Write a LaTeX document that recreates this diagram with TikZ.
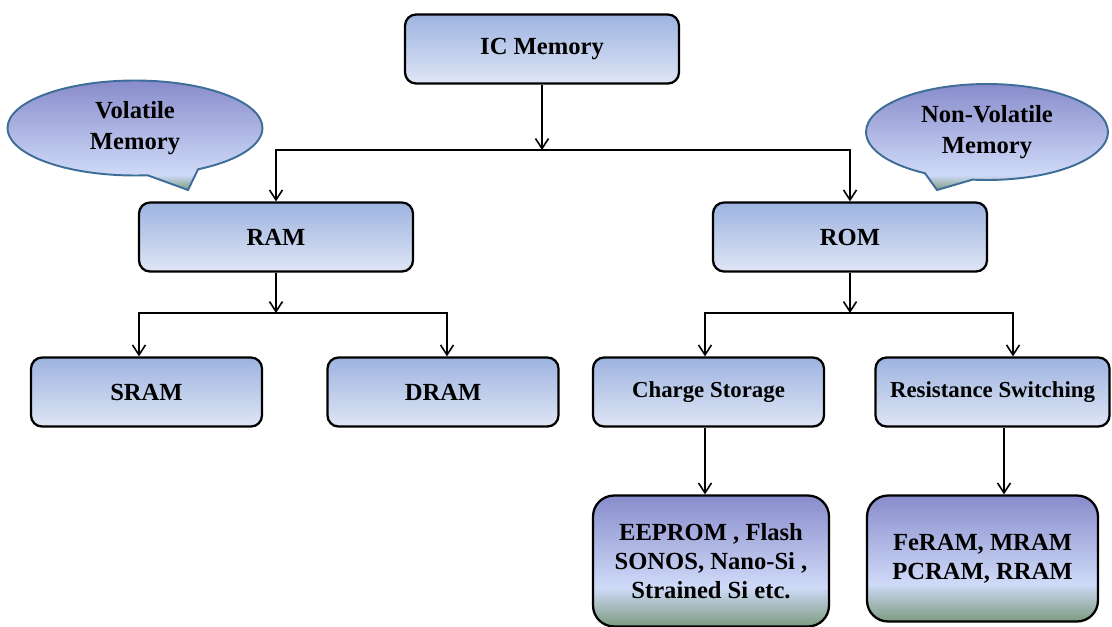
\documentclass[tikz,border=0pt]{standalone}
\usepackage{fontspec}
\setmainfont{Liberation Serif}
\usepackage{tikz}
\usetikzlibrary{arrows.meta}
\usetikzlibrary{shapes.callouts}

\definecolor{boxtop}{HTML}{9DB3E0}
\definecolor{boxbot}{HTML}{DFE6F5}
\definecolor{leaftop}{HTML}{888CCB}
\definecolor{leafmid}{HTML}{CFDAF8}
\definecolor{leafbot}{HTML}{7C9B7F}
\definecolor{calledge}{HTML}{3E6D97}

\pgfdeclareverticalshading{leafshade}{100bp}{color(0bp)=(leafbot); color(25bp)=(leafbot);
  color(40bp)=(leafmid); color(75bp)=(leaftop); color(100bp)=(leaftop)}
\pgfdeclareverticalshading{callshade}{100bp}{color(0bp)=(leafbot); color(25bp)=(leafbot);
  color(32bp)=(leafmid); color(75bp)=(leaftop); color(100bp)=(leaftop)}

\begin{document}
\begin{tikzpicture}[x=0.02cm, y=-0.02cm, >={Straight Barb[length=2mm,width=2.6mm]}]
  \tikzset{memblock/.style={rectangle, rounded corners=0.22cm, draw, line width=1.3pt,
      top color=boxtop, bottom color=boxbot, minimum height=1.38cm, inner sep=0pt,
      font=\bfseries\fontsize{14}{17}\selectfont},
    leafblock/.style={rectangle, rounded corners=0.42cm, draw, line width=1.3pt,
      shading=leafshade, align=center, inner sep=0pt,
      font=\bfseries\fontsize{14}{16.5}\selectfont},
    bubble/.style={ellipse callout, callout pointer arc=24, draw=calledge, line width=1.1pt,
      shading=callshade, align=center, inner sep=0pt,
      font=\bfseries\fontsize{14}{17.5}\selectfont},
    link/.style={line width=0.9pt}}

  \useasboundingbox (0,0) rectangle (1112,626);

  \node[memblock, minimum width=5.48cm] (ic) at (542,49) {IC Memory};
  \node[memblock, minimum width=5.48cm] (ram) at (276,237) {RAM};
  \node[memblock, minimum width=5.48cm] (rom) at (850,237) {ROM};
  \node[memblock, minimum width=4.62cm] (sram) at (146.5,392) {SRAM};
  \node[memblock, minimum width=4.62cm] (dram) at (443,392) {DRAM};
  \node[memblock, minimum width=4.62cm, font=\bfseries\fontsize{13}{16}\selectfont] (chg) at (708.5,392) {Charge Storage};
  \node[memblock, minimum width=4.68cm, font=\bfseries\fontsize{13}{16}\selectfont] (res) at (992.5,392) {Resistance Switching};
  \node[leafblock, minimum width=4.72cm, minimum height=2.62cm] (flash) at (711,561) {EEPROM , Flash\\SONOS, Nano-Si ,\\Strained Si etc.};
  \node[leafblock, minimum width=4.62cm, minimum height=2.52cm] (emerg) at (982.5,558.5) {FeRAM, MRAM\\PCRAM, RRAM};

  %--- callouts ---
  \node[bubble, minimum width=5.1cm, minimum height=1.9cm, callout absolute pointer={(188,190)}] (vol) at (135,128) {Volatile\\Memory};
  \node[bubble, minimum width=4.84cm, minimum height=1.92cm, callout absolute pointer={(937,190)}] (nvol) at (987,132) {Non-Volatile\\Memory};

  %--- junctions ---
  \coordinate (jic) at (542,150);
  \coordinate (jram) at (276,313);
  \coordinate (jrom) at (850,313);

  % IC Memory -> RAM / ROM
  \draw[->, link] (ic) -- (jic);
  \draw[->, link] (jic) -| (ram.north);
  \draw[->, link] (jic) -| (rom.north);

  % RAM -> SRAM / DRAM
  \draw[->, link] (ram) -- (jram);
  \draw[->, link] (jram) -| ([xshift=-0.15cm]sram.north);
  \draw[->, link] (jram) -| ([xshift=0.08cm]dram.north);

  % ROM -> Charge Storage / Resistance Switching
  \draw[->, link] (rom) -- (jrom);
  \draw[->, link] (jrom) -| ([xshift=-0.07cm]chg.north);
  \draw[->, link] (jrom) -| ([xshift=0.41cm]res.north);

  % leaves
  \draw[->, link] ([xshift=-0.07cm]chg.south) -- ([xshift=-0.07cm]chg.south |- flash.north);
  \draw[->, link] ([xshift=0.23cm]res.south) -- ([xshift=0.23cm]res.south |- emerg.north);
\end{tikzpicture}
\end{document}
